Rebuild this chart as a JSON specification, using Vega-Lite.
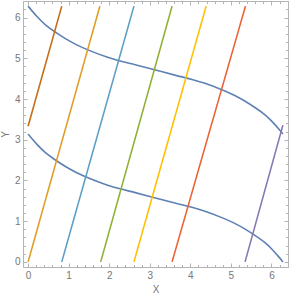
{
  "$schema": "https://vega.github.io/schema/vega-lite/v6.json",
  "width": 265,
  "height": 266,
  "autosize": {"type": "none"},
  "padding": {"left": 23, "top": 1, "right": 3, "bottom": 29},
  "config": {
    "view": {"stroke": "#b4b4b4", "strokeWidth": 1},
    "axis": {
      "domain": false,
      "grid": false,
      "tickColor": "#b4b4b4",
      "tickWidth": 1,
      "labelColor": "#777777",
      "labelFont": "Liberation Sans",
      "labelFontSize": 10,
      "titleColor": "#777777",
      "titleFont": "Liberation Sans",
      "titleFontSize": 10,
      "titleFontWeight": "normal"
    }
  },
  "datasets": {
    "curves": [
      {"c": "top", "x": 0, "y": 6.283},
      {"c": "top", "x": 0.092, "y": 6.172},
      {"c": "top", "x": 0.242, "y": 6.002},
      {"c": "top", "x": 0.442, "y": 5.812},
      {"c": "top", "x": 0.692, "y": 5.632},
      {"c": "top", "x": 0.942, "y": 5.472},
      {"c": "top", "x": 1.142, "y": 5.362},
      {"c": "top", "x": 1.492, "y": 5.202},
      {"c": "top", "x": 1.942, "y": 5.032},
      {"c": "top", "x": 2.242, "y": 4.942},
      {"c": "top", "x": 2.642, "y": 4.842},
      {"c": "top", "x": 3.142, "y": 4.712},
      {"c": "top", "x": 3.642, "y": 4.582},
      {"c": "top", "x": 4.042, "y": 4.482},
      {"c": "top", "x": 4.342, "y": 4.392},
      {"c": "top", "x": 4.792, "y": 4.222},
      {"c": "top", "x": 5.142, "y": 4.062},
      {"c": "top", "x": 5.342, "y": 3.952},
      {"c": "top", "x": 5.592, "y": 3.792},
      {"c": "top", "x": 5.842, "y": 3.612},
      {"c": "top", "x": 6.042, "y": 3.422},
      {"c": "top", "x": 6.192, "y": 3.252},
      {"c": "top", "x": 6.283, "y": 3.141},
      {"c": "bottom", "x": 0, "y": 3.142},
      {"c": "bottom", "x": 0.092, "y": 3.031},
      {"c": "bottom", "x": 0.242, "y": 2.861},
      {"c": "bottom", "x": 0.442, "y": 2.671},
      {"c": "bottom", "x": 0.692, "y": 2.491},
      {"c": "bottom", "x": 0.942, "y": 2.331},
      {"c": "bottom", "x": 1.142, "y": 2.221},
      {"c": "bottom", "x": 1.492, "y": 2.061},
      {"c": "bottom", "x": 1.942, "y": 1.891},
      {"c": "bottom", "x": 2.242, "y": 1.801},
      {"c": "bottom", "x": 2.642, "y": 1.701},
      {"c": "bottom", "x": 3.142, "y": 1.571},
      {"c": "bottom", "x": 3.642, "y": 1.441},
      {"c": "bottom", "x": 4.042, "y": 1.341},
      {"c": "bottom", "x": 4.342, "y": 1.251},
      {"c": "bottom", "x": 4.792, "y": 1.081},
      {"c": "bottom", "x": 5.142, "y": 0.921},
      {"c": "bottom", "x": 5.342, "y": 0.811},
      {"c": "bottom", "x": 5.592, "y": 0.651},
      {"c": "bottom", "x": 5.842, "y": 0.471},
      {"c": "bottom", "x": 6.042, "y": 0.281},
      {"c": "bottom", "x": 6.192, "y": 0.111},
      {"c": "bottom", "x": 6.283, "y": 0}
    ],
    "lines": [
      {"id": "a", "x": 0, "y": 0},
      {"id": "a", "x": 1.77, "y": 6.283},
      {"id": "b", "x": 0.83, "y": 0},
      {"id": "b", "x": 2.61, "y": 6.283},
      {"id": "c", "x": 1.79, "y": 0},
      {"id": "c", "x": 3.55, "y": 6.283},
      {"id": "d", "x": 2.61, "y": 0},
      {"id": "d", "x": 4.39, "y": 6.283},
      {"id": "e", "x": 3.55, "y": 0},
      {"id": "e", "x": 5.36, "y": 6.283},
      {"id": "f", "x": 5.35, "y": 0},
      {"id": "f", "x": 6.283, "y": 3.36},
      {"id": "g", "x": 0, "y": 3.33},
      {"id": "g", "x": 0.83, "y": 6.283}
    ]
  },
  "resolve": {"axis": {"x": "independent", "y": "independent"}},
  "layer": [
    {
      "data": {"name": "curves"},
      "mark": {"type": "line", "stroke": "#5E81B5", "strokeWidth": 1.6, "clip": true, "interpolate": "monotone"},
      "encoding": {
        "detail": {"field": "c"},
        "x": {
          "field": "x", "type": "quantitative",
          "scale": {"domain": [-0.1257, 6.4088], "nice": false, "zero": false},
          "axis": {
            "orient": "bottom",
            "title": "X",
            "titlePadding": 4,
            "values": [0,0.2,0.4,0.6,0.8,1,1.2,1.4,1.6,1.8,2,2.2,2.4,2.6,2.8,3,3.2,3.4,3.6,3.8,4,4.2,4.4,4.6,4.8,5,5.2,5.4,5.6,5.8,6,6.2,6.4],
            "labelExpr": "datum.value % 1 === 0 ? format(datum.value, 'd') : ''",
            "tickSize": {"condition": {"test": "datum.value % 1 === 0", "value": -4}, "value": -2.5},
            "labelPadding": 7
          }
        },
        "y": {
          "field": "y", "type": "quantitative",
          "scale": {"domain": [-0.1257, 6.4088], "nice": false, "zero": false},
          "axis": {
            "orient": "left",
            "title": "Y",
            "titlePadding": 4,
            "values": [0,0.2,0.4,0.6,0.8,1,1.2,1.4,1.6,1.8,2,2.2,2.4,2.6,2.8,3,3.2,3.4,3.6,3.8,4,4.2,4.4,4.6,4.8,5,5.2,5.4,5.6,5.8,6,6.2,6.4],
            "labelExpr": "datum.value % 1 === 0 ? format(datum.value, 'd') : ''",
            "tickSize": {"condition": {"test": "datum.value % 1 === 0", "value": -4}, "value": -2.5},
            "labelPadding": 7
          }
        }
      }
    },
    {
      "data": {"name": "lines"},
      "mark": {"type": "line", "strokeWidth": 1.6, "clip": true},
      "encoding": {
        "detail": {"field": "id"},
        "x": {
          "field": "x", "type": "quantitative",
          "axis": {
            "orient": "top",
            "title": null,
            "labels": false,
            "values": [0,0.2,0.4,0.6,0.8,1,1.2,1.4,1.6,1.8,2,2.2,2.4,2.6,2.8,3,3.2,3.4,3.6,3.8,4,4.2,4.4,4.6,4.8,5,5.2,5.4,5.6,5.8,6,6.2,6.4],
            "tickSize": {"condition": {"test": "datum.value % 1 === 0", "value": -4}, "value": -2.5}
          }
        },
        "y": {
          "field": "y", "type": "quantitative",
          "axis": {
            "orient": "right",
            "title": null,
            "labels": false,
            "values": [0,0.2,0.4,0.6,0.8,1,1.2,1.4,1.6,1.8,2,2.2,2.4,2.6,2.8,3,3.2,3.4,3.6,3.8,4,4.2,4.4,4.6,4.8,5,5.2,5.4,5.6,5.8,6,6.2,6.4],
            "tickSize": {"condition": {"test": "datum.value % 1 === 0", "value": -4}, "value": -2.5}
          }
        },
        "color": {
          "field": "id", "type": "nominal", "legend": null,
          "scale": {"domain": ["a","b","c","d","e","f","g"], "range": ["#E19C24","#5D9EC7","#8FB032","#FFBF00","#EB6235","#8778B3","#C56E1A"]}
        }
      }
    }
  ]
}
